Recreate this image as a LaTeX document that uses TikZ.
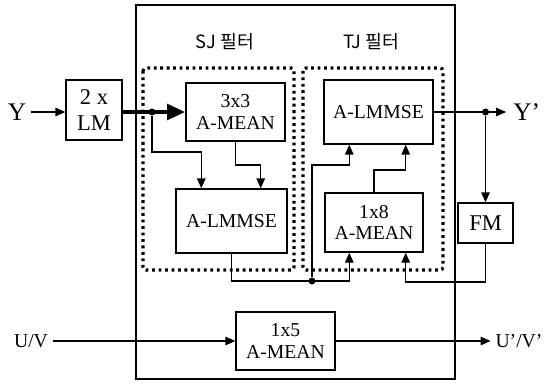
\documentclass[tikz,border=0pt]{standalone}
\usepackage{fontspec}
\setmainfont{Liberation Serif}
\newfontfamily\kfont{Noto Sans CJK KR}
\usepackage{tikz}
\usetikzlibrary{positioning,arrows.meta}

\begin{document}
\begin{tikzpicture}[x=0.025cm, y=-0.025cm,
    caja/.style={draw, line width=1pt, inner sep=0pt, align=center, font=\fontsize{14}{15.5}\selectfont},
    flecha/.style={-{Triangle[length=7pt,width=6pt]}, line width=0.8pt},
    punteado/.style={line width=2.2pt, dash pattern=on 2pt off 2.6pt, rounded corners=2pt},
    punto/.style={circle, fill=black, inner sep=0pt, minimum size=5pt}]

    \useasboundingbox (0,0) rectangle (550,383);

    % Caja exterior
    \draw[line width=1pt] (136,5) rectangle (455,379);

    % Filtros punteados con su titulo
    \foreach \n/\xa/\xb/\xc in {SJ/143/294/225, TJ/303/443/371} {
        \draw[punteado] (\xa,68) rectangle (\xb,270);
        \node[font=\kfont\fontsize{13}{15}\selectfont] (tit\n) at (\xc,42) {\n\ 필터};
    }

    % Bloques
    \node[caja, minimum width=1.4cm, minimum height=1.5cm, font=\fontsize{16}{18}\selectfont] (lm) at (94,110) {2 x\\LM};
    \node[caja, minimum width=2.475cm, minimum height=1.45cm] (mean33) at (235.5,112) {3x3\\A-MEAN};
    \node[caja, minimum width=2.775cm, minimum height=1.6cm] (lmmseS) at (231.5,221) {A-LMMSE};
    \node[caja, minimum width=2.725cm, minimum height=1.6cm] (lmmseT) at (378.5,112) {A-LMMSE};
    \node[caja, minimum width=2.45cm, minimum height=1.475cm] (mean18) at (374,222.5) {1x8\\A-MEAN};
    \node[caja, minimum width=1.375cm, minimum height=1.0cm, font=\fontsize{16}{18}\selectfont] (fm) at (485.5,223) {FM};
    \node[caja, minimum width=2.475cm, minimum height=1.45cm] (mean15) at (285.5,341) {1x5\\A-MEAN};

    % Entradas y salidas
    \node[font=\fontsize{18}{20}\selectfont] (y) at (17,112) {Y};
    \node[font=\fontsize{18}{20}\selectfont, anchor=west, inner xsep=5pt] (yout) at (506,112) {Y'};
    \node[font=\fontsize{14}{16}\selectfont] (uv) at (31,341) {U/V};
    \node[font=\fontsize{14}{16}\selectfont] (uvout) at (519,341) {U'/V'};

    % Puntos de bifurcacion
    \node[punto] (d1) at (152,112) {};
    \node[punto] (d2) at (312,281) {};
    \node[punto] (d3) at (485.5,112) {};

    % Conexiones
    \draw[flecha] (y) -- (y -| lm.west);
    \draw[line width=3pt, -{Triangle[length=13pt,width=11pt]}] (lm.east |- mean33.west) -- (mean33.west);
    \draw[flecha] (d1) -- (152,152) -| ([xshift=0.65cm]lmmseS.north west);
    \draw[flecha] (mean33.south) -- (235.5,165) -| ([xshift=-0.675cm]lmmseS.north east);
    \draw[flecha] (lmmseS.south) |- (d2.center) -| ([xshift=0.625cm]mean18.south west);
    \draw[flecha] (d2) -- (312,165) -| ([xshift=0.65cm]lmmseT.south west);
    \draw[flecha] (mean18.north) -- (374,170) -| ([xshift=-0.7cm]lmmseT.south east);
    \draw[flecha] (lmmseT.east) -- (yout.west);
    \draw[flecha] (d3) -- (fm.north);
    \draw[flecha] (fm.south) -- (485.5,282) -| ([xshift=-0.45cm]mean18.south east);
    \draw[flecha] (uv) -- (mean15.west);
    \draw[flecha] (mean15.east) -- (uvout.west);

\end{tikzpicture}
\end{document}
